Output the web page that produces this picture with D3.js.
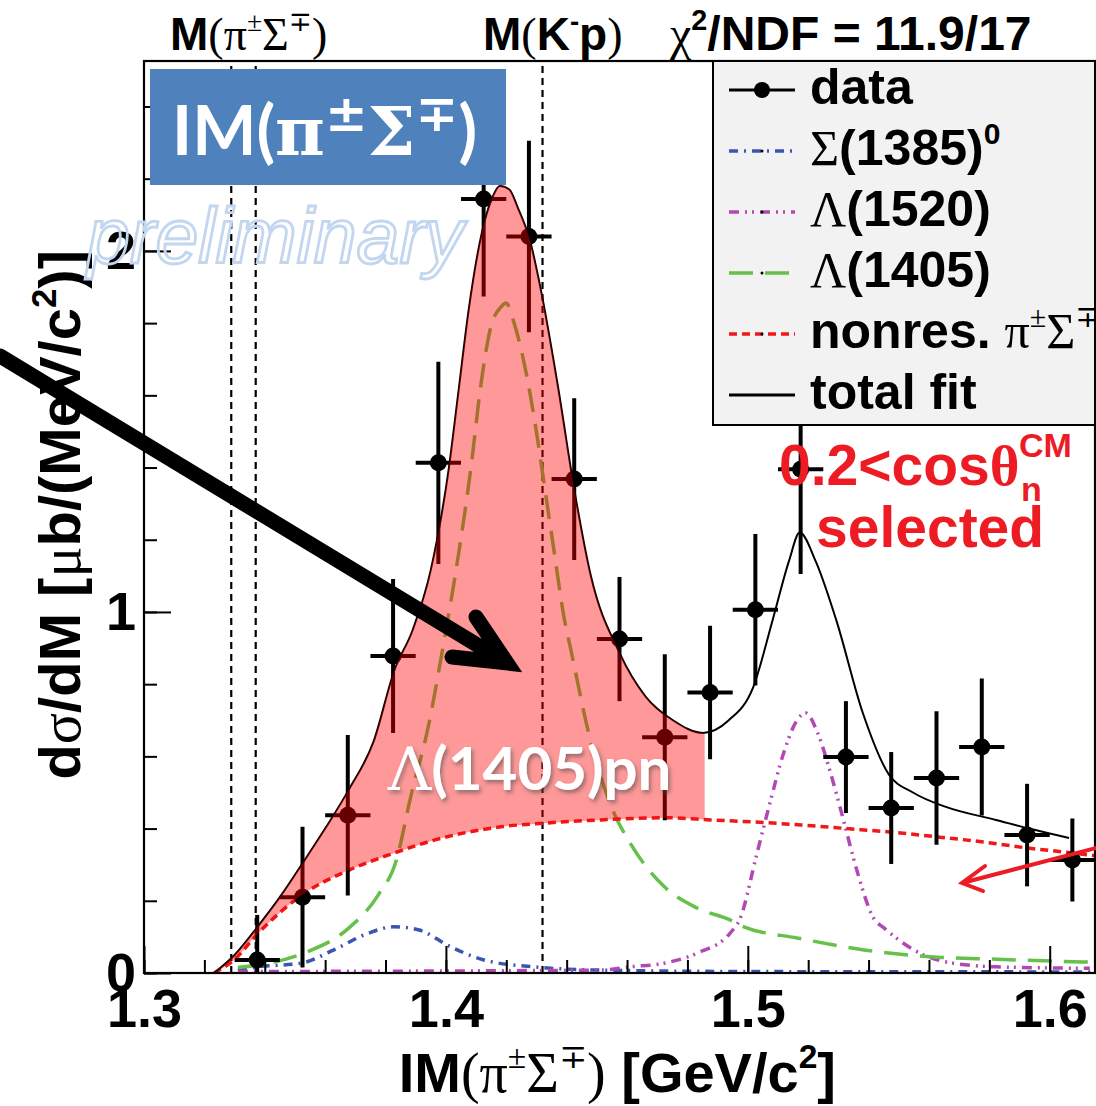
<!DOCTYPE html>
<html>
<head>
<meta charset="utf-8">
<script src="https://cdn.jsdelivr.net/npm/d3@7"></script>
<style>
  body { margin: 0; background: #fff; }
  svg { display: block; }
</style>
</head>
<body>
<svg id="chart" width="1096" height="1106"></svg>
<script>
// --- values ---------------------------------------------------------------

// IM(pi Sigma) bin centres [GeV/c^2] and cross sections [ub/(MeV/c^2)]
const binCenters = [1.3375, 1.3525, 1.3675, 1.3825, 1.3975, 1.4125, 1.4275, 1.4425, 1.4575, 1.4725,
                    1.4875, 1.5025, 1.5175, 1.5325, 1.5475, 1.5625, 1.5775, 1.5925, 1.6075];
const dataValues = [0.036, 0.21, 0.437, 0.878, 1.413, 2.144, 2.04, 1.368, 0.925, 0.653,
                    0.777, 1.006, 1.395, 0.598, 0.457, 0.54, 0.626, 0.382, 0.313];
const dataErrors = [0.125, 0.195, 0.222, 0.213, 0.28, 0.27, 0.265, 0.224, 0.172, 0.23,
                    0.185, 0.21, 0.29, 0.155, 0.155, 0.185, 0.19, 0.142, 0.115];
const binHalfWidth = 0.0075;

// total fit
const fitX = [1.3232, 1.330, 1.3378, 1.345, 1.353, 1.360, 1.368, 1.376, 1.383, 1.389, 1.3951, 1.401,
              1.4043, 1.4076, 1.4119, 1.415, 1.4179, 1.421, 1.4238, 1.4278, 1.4315, 1.437, 1.4427,
              1.448, 1.4573, 1.4662, 1.4752, 1.4851, 1.4937, 1.5017, 1.5083, 1.5136, 1.5172, 1.5225,
              1.5292, 1.5381, 1.5467, 1.5547, 1.5656, 1.5822, 1.5931, 1.6064];
const fitY = [0, 0.05, 0.13, 0.21, 0.31, 0.40, 0.51, 0.64, 0.84, 0.95, 1.12, 1.40,
              1.62, 1.84, 2.05, 2.14, 2.18, 2.17, 2.12, 2.03, 1.89, 1.63, 1.33,
              1.10, 0.89, 0.765, 0.70, 0.665, 0.70, 0.79, 0.98, 1.14, 1.22, 1.14,
              0.98, 0.72, 0.55, 0.50, 0.46, 0.424, 0.40, 0.374];

// non-resonant pi Sigma
const nonresX = [1.3232, 1.3298, 1.3378, 1.353, 1.3679, 1.3828, 1.3961, 1.4183, 1.4325, 1.4514,
                 1.4729, 1.4878, 1.5027, 1.5176, 1.5329, 1.5478, 1.5627, 1.5779, 1.5928, 1.6081, 1.615];
const nonresY = [0, 0.036, 0.11, 0.22, 0.285, 0.332, 0.368, 0.405, 0.415, 0.424,
                 0.43, 0.424, 0.418, 0.41, 0.40, 0.39, 0.377, 0.363, 0.346, 0.332, 0.325];

// Lambda(1405)
const l1405X = [1.3311, 1.3378, 1.353, 1.3679, 1.3775, 1.3835, 1.3884, 1.3941, 1.3994, 1.404,
                1.4083, 1.4116, 1.4149, 1.4183, 1.4199, 1.4226, 1.4259, 1.4292, 1.4325, 1.4358,
                1.4391, 1.4414, 1.448, 1.4557, 1.461, 1.4722, 1.4832, 1.4941, 1.4987, 1.5163,
                1.5385, 1.5604, 1.5825, 1.6133];
const l1405Y = [0.015, 0.022, 0.055, 0.125, 0.215, 0.31, 0.49, 0.68, 0.92, 1.15,
                1.40, 1.63, 1.79, 1.845, 1.856, 1.80, 1.69, 1.54, 1.357, 1.17,
                0.986, 0.895, 0.64, 0.443, 0.36, 0.24, 0.18, 0.147, 0.128, 0.097,
                0.064, 0.045, 0.038, 0.03];

// Sigma(1385)^0
const s1385X = [1.3311, 1.3378, 1.352, 1.3629, 1.3742, 1.3828, 1.3908, 1.4017, 1.4126, 1.4292,
                1.4514, 1.5011, 1.615];
const s1385Y = [0.008, 0.017, 0.027, 0.064, 0.11, 0.128, 0.12, 0.072, 0.036, 0.017,
                0.008, 0.004, 0.003];

// Lambda(1520)
const l1520X = [1.3311, 1.4514, 1.461, 1.4722, 1.4832, 1.4941, 1.4974, 1.503, 1.5073, 1.5119,
                1.5163, 1.5192, 1.5229, 1.5272, 1.5318, 1.5361, 1.5418, 1.5451, 1.555, 1.566,
                1.5825, 1.6133];
const l1520Y = [0.004, 0.008, 0.017, 0.027, 0.055, 0.11, 0.15, 0.33, 0.47, 0.61,
                0.70, 0.72, 0.67, 0.56, 0.42, 0.285, 0.15, 0.125, 0.064, 0.03,
                0.017, 0.013];

// thresholds drawn as dashed lines: M(pi-Sigma+), M(pi+Sigma-), M(K-p)
const thresholds = [1.3289, 1.3370, 1.4320];

// axes
const xDomain = [1.3, 1.615];
const yDomain = [0, 2.526];
const xTickLabels = [1.3, 1.4, 1.5, 1.6];
const yTickLabels = [0, 1, 2];
const shadedUpTo = 1.4857;   // right edge of the hand-drawn Lambda(1405)pn region

// --- setup ----------------------------------------------------------------

const SANS = '"Liberation Sans", Arial, sans-serif';
const SERIF = '"Liberation Serif", "DejaVu Serif", serif';
const CALIBRI = 'Lato, "Open Sans", sans-serif';

const frame = { left: 144, right: 1095, top: 61, bottom: 973 };
const svg = d3.select('#chart');
svg.append('rect').attr('width', 1096).attr('height', 1106).attr('fill', '#fff');

const x = d3.scaleLinear().domain(xDomain).range([frame.left, frame.right]);
const y = d3.scaleLinear().domain(yDomain).range([frame.bottom, frame.top]);

const defs = svg.append('defs');
defs.append('clipPath').attr('id', 'plotClip')
    .append('rect')
    .attr('x', frame.left).attr('y', frame.top)
    .attr('width', frame.right - frame.left).attr('height', frame.bottom - frame.top);

const shadow = defs.append('filter').attr('id', 'txtShadow')
    .attr('x', '-10%').attr('y', '-10%').attr('width', '130%').attr('height', '140%');
shadow.append('feDropShadow')
    .attr('dx', 2).attr('dy', 3).attr('stdDeviation', 2)
    .attr('flood-color', '#444').attr('flood-opacity', 0.55);

// mixed-font text: parts are strings or [text, flags]; g = greek, ^ = superscript, _ = subscript
function rich(parent, px, py, size, parts, opts = {}) {
    const t = parent.append('text')
        .attr('x', px).attr('y', py)
        .attr('font-size', size)
        .attr('font-family', opts.family || SANS)
        .attr('font-weight', opts.weight || 'bold')
        .attr('fill', opts.fill || '#000')
        .attr('text-anchor', opts.anchor || 'start');
    let shift = 0;
    parts.forEach(p => {
        const [txt, flags] = Array.isArray(p) ? p : [p, ''];
        const s = t.append('tspan').text(txt);
        let target = 0;
        if (flags.includes('g')) {
            s.attr('font-family', opts.greekFamily || SERIF)
             .attr('font-weight', opts.greekWeight || 'normal');
        }
        if (flags.includes('^')) { s.attr('font-size', size * (opts.supScale || 0.6)); target = -size * (opts.supRise || 0.42); }
        if (flags.includes('_')) { s.attr('font-size', size * 0.6); target = size * 0.22; }
        if (target !== shift) { s.attr('dy', target - shift); shift = target; }
    });
    return t;
}

const line = (xs, ys) => d3.line()
    .x(d => x(d[0]))
    .y(d => y(d[1]))
    .curve(d3.curveMonotoneX)(d3.zip(xs, ys));

// --- ROOT plot ------------------------------------------------------------

const plot = svg.append('g').attr('clip-path', 'url(#plotClip)');

// threshold lines
plot.selectAll('.thr')
    .data(thresholds)
    .join('line')
    .attr('x1', d => x(d)).attr('x2', d => x(d))
    .attr('y1', y(0)).attr('y2', frame.top)
    .attr('stroke', '#000').attr('stroke-width', 2.2)
    .attr('stroke-dasharray', '7,5');

const styles = {
    s1385:  { color: '#3b55b0', dash: '9,6,2,6' },
    l1520:  { color: '#b347b3', dash: '10,6,2,5,2,6' },
    l1405:  { color: '#66c04a', dash: '24,12' },
    nonres: { color: '#f01818', dash: '8,5' },
};

plot.append('path').attr('d', line(s1385X, s1385Y))
    .attr('fill', 'none').attr('stroke', styles.s1385.color)
    .attr('stroke-width', 3.5).attr('stroke-dasharray', styles.s1385.dash);
plot.append('path').attr('d', line(l1520X, l1520Y))
    .attr('fill', 'none').attr('stroke', styles.l1520.color)
    .attr('stroke-width', 3.5).attr('stroke-dasharray', styles.l1520.dash);
plot.append('path').attr('d', line(l1405X, l1405Y))
    .attr('fill', 'none').attr('stroke', styles.l1405.color)
    .attr('stroke-width', 3.5).attr('stroke-dasharray', styles.l1405.dash);
plot.append('path').attr('d', line(nonresX, nonresY))
    .attr('fill', 'none').attr('stroke', styles.nonres.color)
    .attr('stroke-width', 3.5).attr('stroke-dasharray', styles.nonres.dash);
plot.append('path').attr('d', line(fitX, fitY))
    .attr('fill', 'none').attr('stroke', '#000').attr('stroke-width', 2);

// data points with error bars
const points = d3.zip(binCenters, dataValues, dataErrors);
const pts = plot.selectAll('.pt').data(points).join('g');
pts.append('line')
    .attr('x1', d => x(d[0])).attr('x2', d => x(d[0]))
    .attr('y1', d => y(d[1] - d[2])).attr('y2', d => y(d[1] + d[2]))
    .attr('stroke', '#000').attr('stroke-width', 4);
pts.append('line')
    .attr('x1', d => x(d[0] - binHalfWidth)).attr('x2', d => x(d[0] + binHalfWidth))
    .attr('y1', d => y(d[1])).attr('y2', d => y(d[1]))
    .attr('stroke', '#000').attr('stroke-width', 4);
pts.append('circle')
    .attr('cx', d => x(d[0])).attr('cy', d => y(d[1]))
    .attr('r', 8.5).attr('fill', '#000');

// axes: ROOT style ticks pointing into the frame
const xMinor = d3.range(0, 16).map(i => 1.3 + i * 0.02);
const yMinor = d3.range(0, 13).map(i => i * 0.2);

svg.append('g').attr('transform', `translate(0,${frame.bottom})`)
    .call(d3.axisBottom(x).tickValues(xMinor).tickSize(-13).tickFormat(''))
    .call(g => g.select('.domain').remove());
svg.append('g').attr('transform', `translate(0,${frame.bottom})`)
    .call(d3.axisBottom(x).tickValues(xTickLabels).tickSize(-27).tickPadding(16).tickFormat(d3.format('.1f')))
    .call(g => g.select('.domain').remove())
    .call(g => g.selectAll('text')
        .attr('font-family', SANS).attr('font-weight', 'bold')
        .attr('font-size', 54).attr('fill', '#000'));
svg.append('g').attr('transform', `translate(${frame.left},0)`)
    .call(d3.axisLeft(y).tickValues(yMinor).tickSize(-13).tickFormat(''))
    .call(g => g.select('.domain').remove());
svg.append('g').attr('transform', `translate(${frame.left},0)`)
    .call(d3.axisLeft(y).tickValues(yTickLabels).tickSize(-27).tickPadding(8).tickFormat(d3.format('d')))
    .call(g => g.select('.domain').remove())
    .call(g => g.selectAll('text')
        .attr('font-family', SANS).attr('font-weight', 'bold')
        .attr('font-size', 54).attr('fill', '#000'));
svg.selectAll('.tick line').attr('stroke', '#000').attr('stroke-width', 2);

svg.append('rect')
    .attr('x', frame.left).attr('y', frame.top)
    .attr('width', frame.right - frame.left).attr('height', frame.bottom - frame.top)
    .attr('fill', 'none').attr('stroke', '#000').attr('stroke-width', 2.2);

// axis titles
rich(svg, 836, 1092, 56, ['IM', ['(π', 'g'], ['±', 'g^'], ['Σ', 'g'], ['∓', 'g^'], [')', 'g'],
                          ' [GeV/c', ['2', '^'], ']'], { anchor: 'end' });
rich(svg.append('g').attr('transform', 'rotate(-90)'), -250, 80, 58,
     ['d', ['σ', 'g'], '/dM [', ['μ', 'g'], 'b/(MeV/c', ['2', '^'], ')]'], { anchor: 'end' });

// labels above the frame
rich(svg, 170, 50, 46, ['M', ['(π', 'g'], ['±', 'g^'], ['Σ', 'g'], ['∓', 'g^'], [')', 'g']]);
rich(svg, 483, 50, 46, ['M', ['(', 'g'], 'K', ['-', '^'], 'p', [')', 'g']]);
rich(svg, 670, 50, 48, [['χ', 'g'], ['2', '^'], '/NDF = 11.9/17']);

// legend
const legend = svg.append('g');
legend.append('rect')
    .attr('x', 713).attr('y', frame.top)
    .attr('width', frame.right - 713).attr('height', 425 - frame.top)
    .attr('fill', '#f2f2f2').attr('stroke', '#000').attr('stroke-width', 2);

const legendRows = [
    { parts: ['data'], kind: 'data' },
    { parts: [['Σ', 'g'], '(1385)', ['0', '^']], ...styles.s1385 },
    { parts: [['Λ', 'g'], '(1520)'], ...styles.l1520 },
    { parts: [['Λ', 'g'], '(1405)'], ...styles.l1405 },
    { parts: ['nonres. ', ['π', 'g'], ['±', 'g^'], ['Σ', 'g'], ['∓', 'g^']], ...styles.nonres },
    { parts: ['total fit'], color: '#000', dash: null },
];
const legendY = d3.scaleLinear().domain([0, 5]).range([90, 395]);
legendRows.forEach((row, i) => {
    const cy = legendY(i);
    legend.append('line')
        .attr('x1', 729).attr('x2', 795).attr('y1', cy).attr('y2', cy)
        .attr('stroke', row.color || '#000')
        .attr('stroke-width', row.kind === 'data' || !row.dash ? 3 : 3.5)
        .attr('stroke-dasharray', row.dash || null);
    if (row.kind === 'data') {
        legend.append('circle').attr('cx', 762).attr('cy', cy).attr('r', 8).attr('fill', '#000');
    } else if (row.dash) {
        legend.append('circle').attr('cx', 762).attr('cy', cy).attr('r', 1.5).attr('fill', '#000');
    }
    rich(legend, 810, cy + 14, 50, row.parts);
});

// --- slide annotations on top of the plot ----------------------------------

// Lambda(1405)pn region: between total fit and non-resonant curve
const area = (xs, ys) => d3.area()
    .x(d => x(d[0]))
    .y0(y(0))
    .y1(d => y(d[1]))
    .curve(d3.curveMonotoneX)(d3.zip(xs, ys));
const mask = defs.append('mask').attr('id', 'pinkMask');
mask.append('path').attr('d', area(fitX, fitY)).attr('fill', '#fff');
mask.append('path').attr('d', area(nonresX, nonresY)).attr('fill', '#000');
svg.append('rect')
    .attr('x', x(xDomain[0])).attr('y', frame.top)
    .attr('width', x(shadedUpTo) - x(xDomain[0])).attr('height', frame.bottom - frame.top)
    .attr('fill', '#ff0000').attr('fill-opacity', 0.4)
    .attr('mask', 'url(#pinkMask)');

rich(svg, 388, 790, 60, [['Λ', 'g'], '(1405)pn'],
     { family: CALIBRI, fill: '#fff', greekFamily: '"DejaVu Serif", serif', greekWeight: 'normal' })
    .attr('filter', 'url(#txtShadow)');

// blue title box
svg.append('rect')
    .attr('x', 150).attr('y', 69).attr('width', 356).attr('height', 116)
    .attr('fill', '#4f81bd');
rich(svg, 172, 155, 68, ['IM(', ['π', 'g'], ['±', 'g^'], ['Σ', 'g'], ['∓', 'g^'], ')'],
     { family: CALIBRI, fill: '#fff', greekFamily: '"DejaVu Serif", serif', greekWeight: 'bold',
       supScale: 0.75, supRise: 0.36 });

// watermark
svg.append('text')
    .attr('x', 87).attr('y', 263)
    .attr('font-family', SANS).attr('font-style', 'italic')
    .attr('font-size', 77)
    .attr('fill', 'none').attr('stroke', '#c3d6f0').attr('stroke-width', 2.8)
    .text('preliminary');

// thick black arrow
svg.append('path')
    .attr('d', 'M0,356 L507,663 M476,617 L507,663 L452,657')
    .attr('fill', 'none').attr('stroke', '#000').attr('stroke-width', 15)
    .attr('stroke-linecap', 'round').attr('stroke-linejoin', 'miter');

// red angular-cut note
const red = '#ed1c24';
rich(svg, 779, 485, 57, ['0.2<cos', ['θ', 'g']], { fill: red, greekWeight: 'bold' });
svg.append('text').attr('x', 1019).attr('y', 457)
    .attr('font-family', SANS).attr('font-weight', 'bold').attr('font-size', 34)
    .attr('fill', red).text('CM');
svg.append('text').attr('x', 1021).attr('y', 501)
    .attr('font-family', SANS).attr('font-weight', 'bold').attr('font-size', 34)
    .attr('fill', red).text('n');
svg.append('text').attr('x', 816).attr('y', 547)
    .attr('font-family', SANS).attr('font-weight', 'bold').attr('font-size', 57)
    .attr('fill', red).text('selected');

// thin red arrow
svg.append('path')
    .attr('d', 'M1100,847 L962,883 M985,866 L962,883 L983,891')
    .attr('fill', 'none').attr('stroke', red).attr('stroke-width', 4)
    .attr('stroke-linecap', 'round').attr('stroke-linejoin', 'miter');
</script>
</body>
</html>
